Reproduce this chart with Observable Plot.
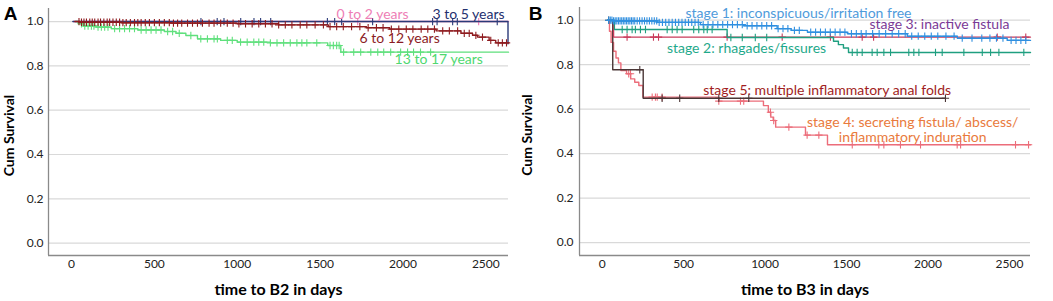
<!DOCTYPE html>
<html><head><meta charset="utf-8">
<script src="https://cdn.jsdelivr.net/npm/d3@7"></script>
<script src="https://cdn.jsdelivr.net/npm/@observablehq/plot@0.6"></script>
<style>
body{margin:0;background:#fff;}
#wrap{display:flex;width:1053px;height:301px;overflow:hidden;}
#wrap svg{overflow:visible;display:block;}
</style></head><body><div id="wrap"></div>
<script>
// ---------- shared ticks ----------
const xTicks = [0, 500, 1000, 1500, 2000, 2500];
const yTicks = [0, 0.2, 0.4, 0.6, 0.8, 1.0];

// ---------- Panel A : age groups ----------
const groupsA = ["0 to 2 years", "3 to 5 years", "6 to 12 years", "13 to 17 years"];
const timeA0 = [10, 2637];
const survA0 = [1.0, 1.0];
const censA0 = [1727, 2457];

const timeA1 = [8, 2634];
const survA1 = [1.0, 0.90];
const censA1 = [781, 879, 920, 1021, 1101, 1141, 1202, 1544, 1588, 1630, 1817, 2179, 2206, 2300, 2328, 2569];

const timeA2 = [20, 50, 300, 600, 1000, 1250, 1550, 1780, 1920, 2200, 2350, 2420, 2450, 2520, 2560, 2637];
const survA2 = [1.0, 0.997, 0.995, 0.993, 0.99, 0.985, 0.977, 0.972, 0.966, 0.958, 0.947, 0.938, 0.93, 0.915, 0.904, 0.904];
const censA2 = [45, 60, 75, 90, 110, 125, 140, 160, 175, 195, 215, 230, 250, 270, 290, 310, 330, 355, 380, 400, 420, 445, 470, 500, 530, 560, 590, 615, 640, 665, 700, 730, 760, 790, 830, 860, 900, 940, 975, 1010, 1050, 1090, 1130, 1170, 1210, 1250, 1290, 1330, 1380, 1420, 1470, 1520, 1560, 1600, 1640, 1690, 1740, 1790, 1840, 1880, 1930, 1975, 2020, 2060, 2110, 2150, 2190, 2240, 2280, 2330, 2370, 2400, 2440, 2480, 2530, 2575, 2600, 2625];

const timeA3 = [26, 40, 70, 150, 240, 400, 560, 630, 690, 760, 900, 1000, 1200, 1546, 1625, 2637];
const survA3 = [1.0, 0.99, 0.98, 0.975, 0.968, 0.962, 0.955, 0.947, 0.937, 0.922, 0.915, 0.907, 0.904, 0.892, 0.862, 0.862];
const censA3 = [60, 80, 100, 120, 135, 160, 180, 200, 220, 260, 290, 320, 350, 380, 420, 450, 480, 510, 540, 580, 610, 650, 720, 780, 820, 860, 880, 940, 970, 1020, 1060, 1100, 1130, 1160, 1200, 1240, 1280, 1320, 1360, 1390, 1420, 1480, 1560, 1580, 1600, 1615, 1642, 1703, 1745, 1806, 1848, 1884, 1926, 1986, 2028, 2064, 2106, 2167];

// label positions (days, survival)
const labelsA = ["0 to 2 years", "3 to 5 years", "6 to 12 years", "13 to 17 years"];
const labelXA = [1817, 2396, 1980, 2216];
const labelYA = [1.030, 1.030, 0.923, 0.829];

// ---------- Panel B : stages ----------
const groupsB = ["stage 1", "stage 2", "stage 3", "stage 4", "stage 5"];
const timeB1 = [33, 64, 338, 603, 868, 1074, 1160, 1260, 1505, 1873, 2180, 2486, 2629];
const survB1 = [1.0, 0.997, 0.99, 0.98, 0.975, 0.962, 0.954, 0.946, 0.939, 0.928, 0.919, 0.909, 0.909];
const censB1 = [40, 50, 60, 70, 80, 90, 100, 110, 120, 130, 140, 150, 160, 170, 180, 190, 200, 215, 230, 245, 260, 275, 290, 305, 320, 335, 350, 370, 390, 410, 430, 450, 470, 490, 510, 530, 550, 570, 590, 620, 650, 680, 710, 740, 770, 800, 830, 860, 890, 920, 950, 980, 1010, 1040, 1080, 1110, 1140, 1180, 1210, 1280, 1310, 1340, 1370, 1400, 1430, 1460, 1490, 1530, 1560, 1590, 1620, 1660, 1700, 1740, 1780, 1820, 1860, 1900, 1940, 1980, 2020, 2060, 2110, 2160, 2210, 2270, 2330, 2380, 2420, 2460, 2510, 2540, 2570, 2600];

const timeB2 = [33, 75, 767, 1420, 1450, 1481, 1512, 2629];
const survB2 = [1.0, 0.958, 0.922, 0.905, 0.89, 0.875, 0.855, 0.855];
const censB2 = [123, 153, 184, 204, 235, 266, 399, 430, 460, 491, 562, 593, 624, 645, 675, 790, 860, 940, 1010, 1535, 1565, 1596, 1657, 1688, 1729, 1770, 1882, 1913, 1944, 2046, 2087, 2220, 2333, 2384, 2435, 2588];

const timeB3 = [36, 70, 2629];
const survB3 = [1.0, 0.924, 0.924];
const censB3 = [153, 315, 346, 767, 1105, 1401, 1596, 1666, 2425, 2600];

const timeB4 = [36, 45, 55, 70, 85, 100, 115, 150, 175, 200, 225, 250, 716, 990, 1020, 1035, 1050, 1065, 1248, 1383, 2629];
const survB4 = [1.0, 0.95, 0.90, 0.86, 0.83, 0.808, 0.774, 0.759, 0.736, 0.721, 0.706, 0.654, 0.636, 0.616, 0.586, 0.564, 0.549, 0.519, 0.483, 0.44, 0.44];
const censB4 = [163, 174, 307, 327, 338, 368, 716, 849, 869, 1033, 1053, 1146, 1258, 1330, 1535, 1698, 1729, 1831, 1954, 2179, 2200, 2537, 2617];

const timeB5 = [36, 65, 252, 2107];
const survB5 = [1.0, 0.777, 0.649, 0.649];
const censB5 = [40, 231, 368, 476, 716, 900, 2107];

const labelsB = ["stage 1: inconspicuous/irritation free", "stage 3: inactive fistula", "stage 2: rhagades/fissures", "stage 5: multiple inflammatory anal folds", "stage 4: secreting fistula/ abscess/", "inflammatory induration"];
const labelXB = [1205, 2070, 886, 1381, 1906, 1906];
const labelYB = [1.031, 0.979, 0.871, 0.684, 0.541, 0.471];

// ---------- helpers ----------
function stepRows(t, s) { return t.map((d, i) => ({t: d, s: s[i]})); }
function censRows(c, t, s) { return c.map(ct => ({t: ct, s: s[Math.max(0, d3.bisectRight(t, ct) - 1)]})); }

const FONT = "Lato, 'Open Sans', sans-serif";

function panel({width, marginLeft, marginRight, marginTop, xDomain, yDomain, series, labels, letter, letterDx, letterDy, ylabDx, xTitle, yTickPad}) {
  const marks = [
    Plot.ruleY(yTicks, {stroke: "#d9d9d9", strokeWidth: 1.2}),
    Plot.ruleX([xDomain[0]], {stroke: "#8a8a8a", strokeWidth: 1.3}),
    Plot.ruleY([yDomain[0]], {stroke: "#8a8a8a", strokeWidth: 1.3}),
    Plot.axisY(yTicks, {tickSize: 0, tickPadding: yTickPad, tickFormat: d3.format(".1f"), fontSize: 12, fill: "#222", label: null}),
    Plot.axisX(xTicks, {tickSize: 0, tickPadding: 4, tickFormat: d => String(d), fontSize: 12, fill: "#222", label: null})
  ];
  for (const sr of series) {
    marks.push(Plot.line(stepRows(sr.t, sr.s), {x: "t", y: "s", curve: "step-after", stroke: sr.color, strokeWidth: 1.4}));
    marks.push(Plot.dot(censRows(sr.c, sr.t, sr.s), {x: "t", y: "s", symbol: "plus", r: 2.5, stroke: sr.color, strokeWidth: 1.1}));
  }
  labels.forEach(l => {
    marks.push(Plot.text([l], {x: d => d.x, y: d => d.y, text: d => d.text, fill: l.color, fontSize: 14, textAnchor: "middle", lineAnchor: "middle"}));
  });
  marks.push(Plot.text([letter], {text: d => d, frameAnchor: "top-left", dx: letterDx, dy: letterDy, textAnchor: "middle", lineAnchor: "middle", fontSize: 19, fontWeight: "bold", fontFamily: "'Liberation Sans', Arial, sans-serif", fill: "#000"}));
  marks.push(Plot.text(["Cum Survival"], {text: d => d, frameAnchor: "left", rotate: -90, dx: ylabDx, dy: 3.5, textAnchor: "middle", lineAnchor: "middle", fontSize: 14, fontWeight: "bold", fill: "#000"}));
  marks.push(Plot.text([xTitle], {text: d => d, frameAnchor: "bottom", dy: 34, textAnchor: "middle", lineAnchor: "middle", fontSize: 16, fontWeight: "bold", fill: "#000"}));
  return Plot.plot({
    width, height: 301,
    marginLeft, marginRight, marginTop, marginBottom: 46,
    x: {domain: xDomain},
    y: {domain: yDomain},
    style: {fontFamily: FONT, fontSize: "12px", background: "#fff", overflow: "visible"},
    marks
  });
}

const seriesA = [
  {t: timeA0, s: survA0, c: censA0, color: "#f07ab5"},
  {t: timeA1, s: survA1, c: censA1, color: "#2b3a78"},
  {t: timeA3, s: survA3, c: censA3, color: "#5fe07c"},
  {t: timeA2, s: survA2, c: censA2, color: "#8e1b1f"}
];
const labColorsA = ["#ee7fb6", "#24306e", "#8b1c24", "#4fd870"];
const labA = labelsA.map((text, i) => ({text, x: labelXA[i], y: labelYA[i], color: labColorsA[i]}));

const seriesB = [
  {t: timeB4, s: survB4, c: censB4, color: "#ec6d7a"},
  {t: timeB5, s: survB5, c: censB5, color: "#4a3636"},
  {t: timeB3, s: survB3, c: censB3, color: "#c93a5a"},
  {t: timeB2, s: survB2, c: censB2, color: "#1f9f80"},
  {t: timeB1, s: survB1, c: censB1, color: "#2f8fe0"}
];
const labColorsB = ["#4f9bdb", "#7b3a96", "#1fa98b", "#a11d22", "#e97a3c", "#e97a3c"];
const labB = labelsB.map((text, i) => ({text, x: labelXB[i], y: labelYB[i], color: labColorsB[i]}));

const wrap = document.getElementById("wrap");
wrap.appendChild(panel({
  width: 520, marginLeft: 48, marginRight: 12, marginTop: 8,
  xDomain: [-139, 2637], yDomain: [-0.056, 1.059],
  series: seriesA, labels: labA, letter: "A", letterDx: -38, letterDy: 5.5, ylabDx: -39,
  xTitle: "time to B2 in days", yTickPad: 5
}));
wrap.appendChild(panel({
  width: 533, marginLeft: 59, marginRight: 23, marginTop: 7,
  xDomain: [-139, 2629], yDomain: [-0.058, 1.057],
  series: seriesB, labels: labB, letter: "B", letterDx: -44, letterDy: 6.5, ylabDx: -52,
  xTitle: "time to B3 in days", yTickPad: 6
}));
</script></body></html>
